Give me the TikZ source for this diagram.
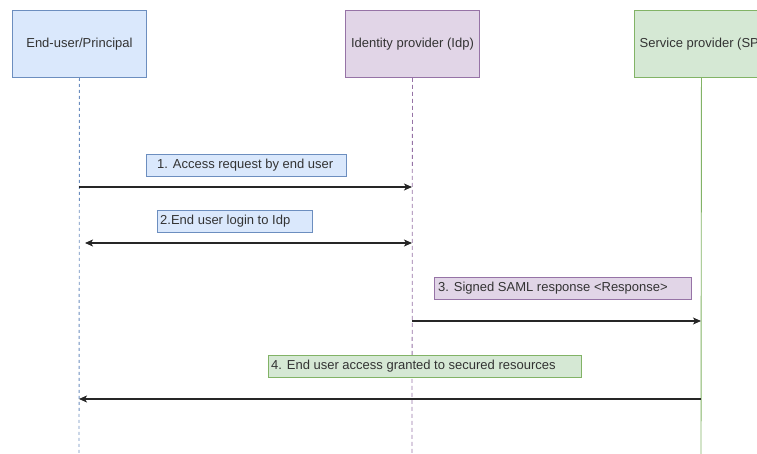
\documentclass[tikz,border=0pt]{standalone}
\usepackage{fontspec}
\setmainfont{Liberation Sans}
\usetikzlibrary{arrows.meta}
\definecolor{bluefill}{HTML}{DAE8FC}
\definecolor{bluedraw}{HTML}{6C8EBF}
\definecolor{purpfill}{HTML}{E1D5E7}
\definecolor{purpdraw}{HTML}{9673A6}
\definecolor{greenfill}{HTML}{D5E8D4}
\definecolor{greendraw}{HTML}{82B366}
\definecolor{txt}{HTML}{333333}
\begin{document}
\begin{tikzpicture}[x=1pt,y=-1pt,
  actor/.style={draw=#1draw,fill=#1fill,line width=0.9pt,minimum width=134pt,minimum height=67pt,inner sep=0pt,
    font=\fontsize{13}{15}\selectfont,text=txt,anchor=north west},
  msg/.style={draw=#1draw,fill=#1fill,line width=0.9pt,minimum height=22pt,inner sep=0pt,anchor=north west},
  lbl/.style={anchor=west,font=\fontsize{13}{15}\selectfont,text=txt,inner sep=0pt},
  arr/.style={line width=1.1pt,draw=black!85,-{Stealth[length=8pt,width=7pt,inset=2pt]}},
  darr/.style={line width=1.1pt,draw=black!85,{Stealth[length=8pt,width=7pt,inset=2pt]}-{Stealth[length=8pt,width=7pt,inset=2pt]}}
]
\useasboundingbox (0,0) rectangle (757,454);
\begin{scope}
\clip (0,0) rectangle (757,454);
% actors
\node[actor=blue] (a1) at (12,10) {End-user/Principal};
\node[actor=purp] (a2) at (345,10) {Identity provider (Idp)};
\node[actor=green] (a3) at (634,10) {Service provider (SP)};
% lifeline ends
\coordinate (e1) at (79,454);
\coordinate (e2) at (412,454);
\coordinate (e3) at (701,454);
\draw[bluedraw,line width=0.9pt,dash pattern=on 3pt off 3pt] (a1.south) -- (e1);
\draw[purpdraw,line width=0.8pt,dash pattern=on 4pt off 3pt] (a2.south) -- (e2);
\draw[greendraw,line width=0.9pt] (a3.south) -- (e3);
% message anchor points on lifelines
\coordinate (m1a) at (79,187);  \coordinate (m1b) at (412,187);
\coordinate (m2a) at (85,243);  \coordinate (m2b) at (412,243);
\coordinate (m3a) at (412,321); \coordinate (m3b) at (701,321);
\coordinate (m4a) at (701,399); \coordinate (m4b) at (79,399);
\draw[arr] (m1a) -- (m1b);
\draw[darr] (m2a) -- (m2b);
\draw[arr] (m3a) -- (m3b);
\draw[arr] (m4a) -- (m4b);
% labels
\node[msg=blue,minimum width=200pt] (l1) at (146,154) {};
\node[lbl] (t1) at (157,165.5) {1. Access request by end user};
\node[msg=blue,minimum width=155pt] (l2) at (157,210) {};
\node[lbl] (t2) at (160,221) {2.End user login to Idp};
\node[msg=purp,minimum width=257pt] (l3) at (434,277) {};
\node[lbl] (t3) at (438,288) {3. Signed SAML response <Response>};
\node[msg=green,minimum width=313pt] (l4) at (268,355) {};
\node[lbl] (t4) at (271,366) {4. End user access granted to secured resources};
\end{scope}
\end{tikzpicture}
\end{document}
